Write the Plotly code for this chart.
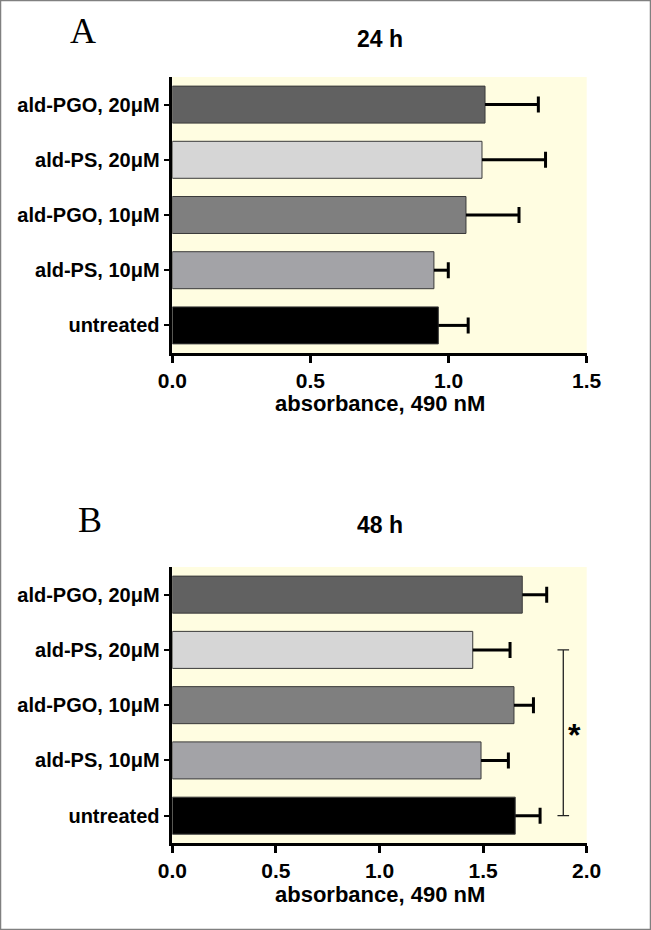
import plotly.graph_objects as go

# ---- data ----
categories = ["untreated", "ald-PS, 10μM", "ald-PGO, 10μM", "ald-PS, 20μM", "ald-PGO, 20μM"]
bar_colors = ["#000000", "#A3A3A7", "#7F7F7F", "#D6D6D6", "#616161"]

values_24h = [0.963, 0.947, 1.063, 1.121, 1.132]
errors_24h = [0.108, 0.052, 0.192, 0.230, 0.193]

values_48h = [1.655, 1.490, 1.649, 1.450, 1.689]
errors_48h = [0.120, 0.132, 0.094, 0.180, 0.118]

x_ticks_24h = [0.0, 0.5, 1.0, 1.5]
x_ticks_48h = [0.0, 0.5, 1.0, 1.5, 2.0]

# significance bracket (48 h panel): between "ald-PS, 20μM" and "untreated"
bracket_x = 1.887
bracket_cap = 0.028
bracket_from = "ald-PS, 20μM"
bracket_to = "untreated"

W, H = 651, 930
FONT = "Liberation Sans"
BG = "#FFFDE1"

fig = go.Figure()


def add_panel(values, errors, xa, ya):
    fig.add_trace(go.Bar(
        y=categories, x=values, orientation="h",
        marker=dict(color=bar_colors, line=dict(color="#3a3a3a", width=1)),
        width=0.67,
        error_x=dict(type="data", symmetric=False, array=errors,
                     arrayminus=[0] * len(errors), width=0, thickness=3,
                     color="black"),
        xaxis=xa, yaxis=ya, showlegend=False, hoverinfo="skip",
    ))
    # caps at the ends of the error bars
    fig.add_trace(go.Scatter(
        y=categories, x=[v + e for v, e in zip(values, errors)],
        mode="markers", marker=dict(size=1, opacity=0),
        error_x=dict(type="data", array=[0] * len(errors), width=8,
                     thickness=3, color="black"),
        xaxis=xa, yaxis=ya, showlegend=False, hoverinfo="skip",
    ))


add_panel(values_24h, errors_24h, "x", "y")
add_panel(values_48h, errors_48h, "x2", "y2")

# bracket
fig.add_trace(go.Scatter(
    x=[bracket_x - bracket_cap, bracket_x + bracket_cap, None,
       bracket_x, bracket_x, None,
       bracket_x - bracket_cap, bracket_x + bracket_cap],
    y=[bracket_from, bracket_from, None, bracket_from, bracket_to, None,
       bracket_to, bracket_to],
    mode="lines", line=dict(color="#222222", width=1.3),
    xaxis="x2", yaxis="y2", showlegend=False, hoverinfo="skip",
))

xdom = [172.3 / W, 586.7 / W]
top_dom = [1 - 353 / H, 1 - 77 / H]
bot_dom = [1 - 843.3 / H, 1 - 567 / H]

axis_common = dict(showline=True, linecolor="black", linewidth=2.5,
                   showgrid=False, zeroline=False, ticks="outside",
                   tickcolor="black", automargin=False, mirror=False)

xfont = dict(family=FONT, size=21, color="black", weight="bold")
yfont = dict(family=FONT, size=20, color="black", weight="bold")

fig.update_layout(
    width=W, height=H,
    margin=dict(l=0, r=0, t=0, b=0),
    paper_bgcolor="white", plot_bgcolor=BG,
    template="none",
    xaxis=dict(domain=xdom, anchor="y", range=[0, 1.5],
               tickvals=x_ticks_24h, ticktext=[f"{t:.1f}" for t in x_ticks_24h],
               ticklen=7, tickwidth=2.5, tickfont=xfont, **axis_common),
    yaxis=dict(domain=top_dom, anchor="x", type="category",
               categoryorder="array", categoryarray=categories,
               range=[-0.5, 4.5], ticklen=6, tickwidth=2, tickfont=yfont,
               **axis_common),
    xaxis2=dict(domain=xdom, anchor="y2", range=[0, 2.0],
                tickvals=x_ticks_48h, ticktext=[f"{t:.1f}" for t in x_ticks_48h],
                ticklen=7, tickwidth=2.5, tickfont=xfont, **axis_common),
    yaxis2=dict(domain=bot_dom, anchor="x2", type="category",
                categoryorder="array", categoryarray=categories,
                range=[-0.5, 4.5], ticklen=6, tickwidth=2, tickfont=yfont,
                **axis_common),
)

xc = (xdom[0] + xdom[1]) / 2
title_font = dict(family=FONT, size=23, color="black", weight="bold")
axis_title_font = dict(family=FONT, size=22, color="black", weight="bold")
ann = [
    dict(text="A", x=83 / W, y=1 - 31 / H, font=dict(family="Liberation Serif", size=36, color="black")),
    dict(text="B", x=90 / W, y=1 - 520 / H, font=dict(family="Liberation Serif", size=36, color="black")),
    dict(text="24 h", x=xc, y=1 - 39 / H, font=title_font),
    dict(text="48 h", x=xc, y=1 - 525 / H, font=title_font),
    dict(text="absorbance, 490 nM", x=xc, y=1 - 404 / H, font=axis_title_font),
    dict(text="absorbance, 490 nM", x=xc, y=1 - 894 / H, font=axis_title_font),
]
for a in ann:
    fig.add_annotation(xref="paper", yref="paper", xanchor="center",
                       yanchor="middle", showarrow=False, **a)

fig.add_annotation(xref="x2", yref="y2", x=1.943, y=1.55, text="*",
                   showarrow=False, yshift=-5,
                   font=dict(family=FONT, size=32, color="black", weight="bold"))

fig.add_shape(type="rect", xref="paper", yref="paper", x0=0, x1=1, y0=0, y1=1,
              line=dict(color="#808080", width=2.5), layer="above")

fig.write_html("out.html",
               config={"displayModeBar": False},
               post_script="document.body.style.margin='0px';"
                           "document.body.style.overflow='hidden';")
